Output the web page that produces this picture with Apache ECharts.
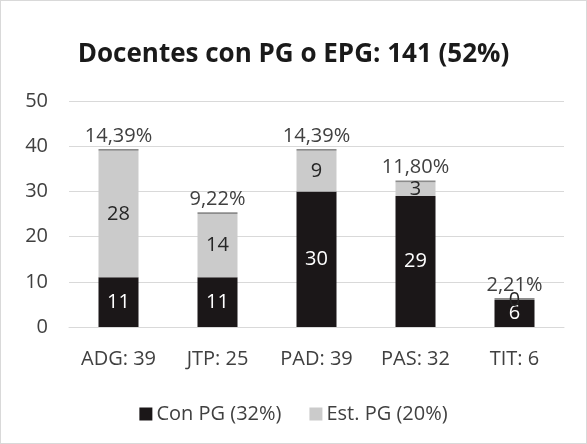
<!DOCTYPE html>
<html><head><meta charset="utf-8">
<script src="https://cdn.jsdelivr.net/npm/echarts@6/dist/echarts.min.js"></script>
<style>html,body{margin:0;padding:0;background:#fff}#c{width:587px;height:444px;box-sizing:border-box;border:1px solid #d9d9d9}</style>
</head><body><div id="c"></div>
<script>
const categories = ['ADG: 39','JTP: 25','PAD: 39','PAS: 32','TIT: 6'];
const conPG = [11,11,30,29,6];
const estPG = [28,14,9,3,0];
const pctLabels = ['14,39%','9,22%','14,39%','11,80%','2,21%'];
const capValue = [0.4,0.4,0.4,0.4,0.4];
const yTicks = [0,10,20,30,40,50];

const font = 'Open Sans';
const chart = echarts.init(document.getElementById('c'));
chart.setOption({
  animation:false,
  textStyle:{fontFamily:font},
  title:{text:'Docentes con PG o EPG: 141 (52%)',left:'center',top:36,
    textStyle:{fontFamily:font,fontSize:26,fontWeight:'bold',color:'#1a1a1a'}},
  legend:{top:398,left:'center',itemWidth:13,itemHeight:13,itemGap:28,icon:'rect',
    data:['Con PG (32%)','Est. PG (20%)'],
    textStyle:{fontFamily:font,fontSize:20,color:'#404040',padding:[0,0,0,-1]}},
  grid:{left:68,right:22,top:100,bottom:116},
  xAxis:{type:'category',data:categories,
    axisLine:{lineStyle:{color:'#d9d9d9'}},axisTick:{show:false},
    axisLabel:{fontFamily:font,fontSize:20,color:'#404040',margin:22}},
  yAxis:{type:'value',min:0,max:50,interval:10,
    axisLine:{show:false},axisTick:{show:false},
    splitLine:{lineStyle:{color:'#d9d9d9'}},
    axisLabel:{fontFamily:font,fontSize:20,color:'#404040',margin:21}},
  series:[
    {name:'Con PG (32%)',type:'bar',stack:'s',data:conPG,barWidth:40,
     itemStyle:{color:'#1b1718'},
     label:{show:true,position:'inside',color:'#fff',fontSize:20,fontFamily:font}},
    {name:'Est. PG (20%)',type:'bar',stack:'s',data:estPG,
     itemStyle:{color:'#cbcbcb'},
     label:{show:true,position:'inside',color:'#262626',fontSize:20,fontFamily:font}},
    {name:'cap',type:'bar',stack:'s',data:capValue,
     itemStyle:{color:'#8c8c8c'},
     label:{show:true,position:'top',distance:3,color:'#404040',fontSize:20,fontFamily:font,
       formatter:p=>pctLabels[p.dataIndex]}}
  ]
});
</script></body></html>
